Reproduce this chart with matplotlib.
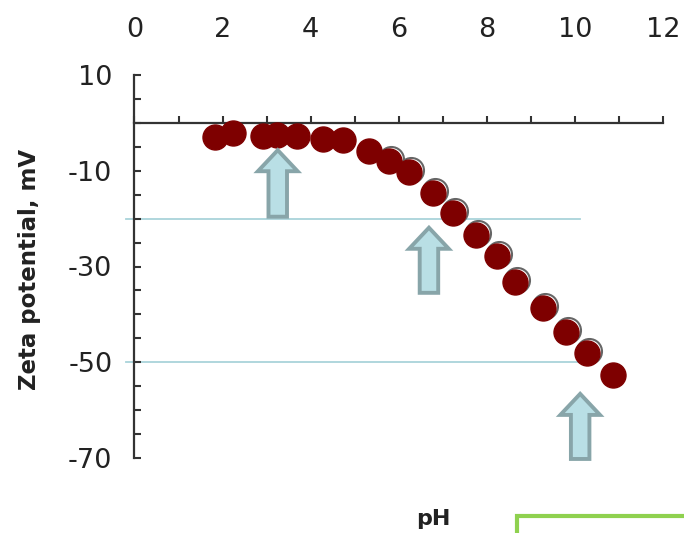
import matplotlib
matplotlib.use("Agg")
import matplotlib.pyplot as plt
import matplotlib.transforms as mtransforms
from matplotlib.patches import FancyArrow, Rectangle

# measured zeta potential vs pH
ph = [1.83, 2.23, 2.92, 3.23, 3.69, 4.28, 4.73, 5.32, 5.77, 6.23,
      6.77, 7.23, 7.75, 8.22, 8.63, 9.27, 9.79, 10.27, 10.86]
zeta = [-2.9, -2.1, -2.7, -2.5, -2.7, -3.4, -3.6, -5.9, -8.0, -10.3,
        -14.6, -18.8, -23.4, -27.8, -33.2, -38.6, -43.7, -48.0, -52.6]

x_ticks = [0, 2, 4, 6, 8, 10, 12]
y_ticks = [10, -10, -30, -50, -70]
ref_levels = [-20, -50]

# arrows: (pH, bottom, top)
arrows = [(3.25, -19.6, -5.7), (6.68, -35.5, -21.9), (10.11, -70.2, -56.6)]

fig = plt.figure(figsize=(6.84, 5.33), dpi=100)
ax = fig.add_axes([0.1966, 0.1407, 0.7734, 0.7186])

tick_color = "#333333"

# reference lines
for lev in ref_levels:
    ax.plot([-0.19, 10.11], [lev, lev], color="#a9d3da", lw=1.3, clip_on=False, zorder=1)

# ghost rings behind markers
shift = mtransforms.ScaledTranslation(2 / 100, 2 / 100, fig.dpi_scale_trans)
ax.plot(ph[8:18], zeta[8:18], "o", ms=18, mfc="none", mec="#666666", mew=1.5,
        transform=ax.transData + shift, zorder=2, clip_on=False)
ax.plot(ph, zeta, "o", ms=18, color="#7e0000", mec="#7e0000", zorder=3, clip_on=False)

for x, y0, y1 in arrows:
    ax.add_patch(FancyArrow(x, y0, 0, y1 - y0, width=0.42, head_width=0.9,
                            head_length=4.4, length_includes_head=True,
                            fc="#b9dfe5", ec="#88a5a9", lw=2.8, zorder=4,
                            clip_on=False))

ax.set_xlim(0, 12)
ax.set_ylim(-70, 10)

ax.spines["top"].set_visible(False)
ax.spines["right"].set_visible(False)
ax.spines["bottom"].set_position(("data", 0))
for s in ("left", "bottom"):
    ax.spines[s].set_color(tick_color)
    ax.spines[s].set_linewidth(1.6)

ax.set_xticks(x_ticks)
ax.set_xticks(range(0, 13), minor=True)
ax.set_xticklabels([str(t) for t in x_ticks])
ax.tick_params(axis="x", which="both", top=False, bottom=True, labeltop=True,
               labelbottom=False, direction="in", length=5, width=1.5,
               color=tick_color, pad=23, labelsize=19.5, labelcolor="#222222")

ax.set_yticks(y_ticks)
ax.set_yticks(range(-70, 11, 5), minor=True)
ax.set_yticklabels([str(t) for t in y_ticks])
ax.tick_params(axis="y", which="both", direction="in", length=5, width=1.5,
               color=tick_color, pad=16, labelsize=19.5, labelcolor="#222222")

fig.text(30 / 684, 1 - 269 / 533, "Zeta potential, mV", rotation=90,
         ha="center", va="center", fontsize=16.5, fontweight="bold", color="#222222")
fig.text(433 / 684, 1 - 519 / 533, "pH", ha="center", va="center",
         fontsize=16, fontweight="bold", color="#222222")

# green frame peeking in at the bottom right
fig.patches.append(Rectangle((517 / 684, -0.2), 0.5, 0.2 + 17 / 533, fill=False,
                             ec="#8fd14f", lw=3, transform=fig.transFigure))

fig.savefig("out.png", dpi=100)
